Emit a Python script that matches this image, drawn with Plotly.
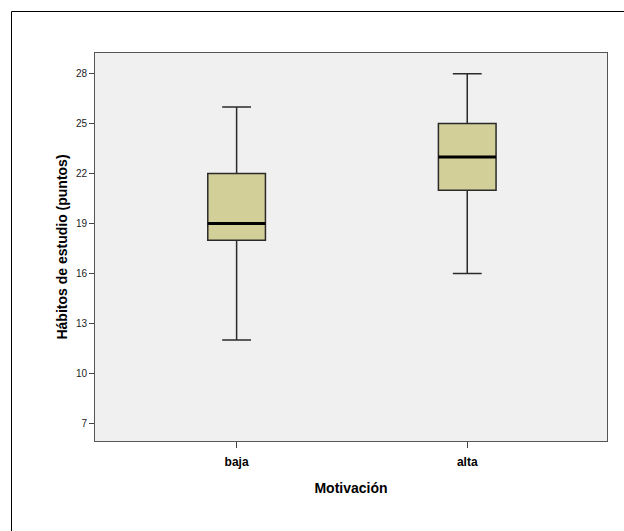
import plotly.graph_objects as go

categories = ["baja", "alta"]
q1 = [18, 21]
median = [19, 23]
q3 = [22, 25]
lower = [12, 16]
upper = [26, 28]
y_ticks = [7, 10, 13, 16, 19, 22, 25, 28]

box_width = 0.25
xs = list(range(len(categories)))

fig = go.Figure()
fig.add_trace(go.Box(
    x=xs, q1=q1, median=median, q3=q3, lowerfence=lower, upperfence=upper,
    width=box_width, whiskerwidth=0.5,
    fillcolor="#D3CF98", line=dict(color="#2a2a2a", width=1.5),
    boxpoints=False, hoverinfo="skip", showlegend=False,
))
for i, m in zip(xs, median):
    fig.add_trace(go.Scatter(
        x=[i - box_width / 2, i + box_width / 2], y=[m, m], mode="lines",
        line=dict(color="#000000", width=3), showlegend=False, hoverinfo="skip",
    ))

# outer frame
fig.add_shape(type="rect", xref="paper", yref="paper",
              x0=(11.5 - 95) / 512, x1=1.1, y0=-0.5, y1=(441 - 11.5) / 388,
              line=dict(color="#000000", width=1), layer="below")

fig.update_layout(
    width=624, height=531,
    margin=dict(l=95, r=17, t=53, b=90),
    paper_bgcolor="white", plot_bgcolor="#F0F0F0",
    font=dict(family="Liberation Sans, Arial, sans-serif", color="#000000"),
    xaxis=dict(
        range=[-0.614, 1.606], tickvals=xs, ticktext=["<b>%s</b>" % c for c in categories],
        ticks="outside", ticklen=6, tickcolor="#444", tickwidth=1,
        tickfont=dict(size=12, color="#000"), ticklabelstandoff=4,
        title=dict(text="<b>Motivación</b>", font=dict(size=14), standoff=14),
        showgrid=False, zeroline=False,
        showline=True, linecolor="#555", linewidth=1, mirror=True,
    ),
    yaxis=dict(
        range=[5.94, 29.24], tickvals=y_ticks,
        ticks="outside", ticklen=5, tickcolor="#444", tickwidth=1,
        tickfont=dict(size=10, color="#222"),
        title=dict(text="<b>Hábitos de estudio (puntos)</b>", font=dict(size=14), standoff=4),
        showgrid=False, zeroline=False,
        showline=True, linecolor="#555", linewidth=1, mirror=True,
    ),
)

fig.write_html("out.html", config={"displayModeBar": False},
               post_script="document.body.style.margin='0px';")
